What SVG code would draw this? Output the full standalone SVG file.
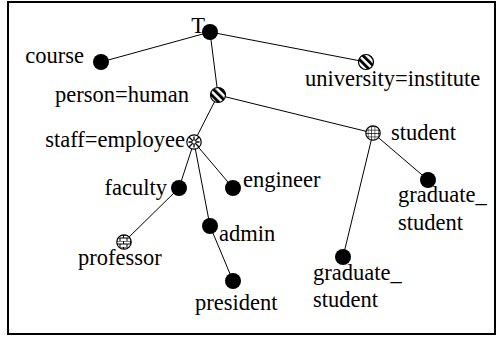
<svg xmlns="http://www.w3.org/2000/svg" width="496" height="341" viewBox="0 0 496 341">
<style>
.t text{font-family:"Liberation Serif","Times New Roman",serif;font-size:22.5px;fill:#000}
.t text.r{text-anchor:end}
.e{stroke:#000;stroke-width:1;fill:none}
.n{fill:#000}
.p{stroke:#000;stroke-width:1.2}
</style>
<defs>
<pattern id="stripe" patternUnits="userSpaceOnUse" width="5.4" height="5.4" patternTransform="rotate(-45)">
<rect width="5.4" height="5.4" fill="#fff"/>
<rect width="2.9" height="5.4" fill="#000"/>
</pattern>
<pattern id="grid" patternUnits="userSpaceOnUse" width="3.4" height="3.4" x="0.5" y="0.5">
<rect width="3.4" height="3.4" fill="#fff"/>
<path d="M0 0H3.4M0 0V3.4" stroke="#000" stroke-width="1.1"/>
</pattern>
<pattern id="brick" patternUnits="userSpaceOnUse" width="7" height="6" x="1" y="1">
<rect width="7" height="6" fill="#fff"/>
<path d="M0 0H7M0 3H7M3.5 0V3M0 3V6M7 3V6" stroke="#000" stroke-width="1"/>
</pattern>
</defs>
<rect x="8" y="2" width="487" height="332" fill="#fff" stroke="#000" stroke-width="2"/>
<g id="connectors" class="e">
<line x1="210" y1="32" x2="101" y2="62"/>
<line x1="210" y1="32" x2="366" y2="62"/>
<line x1="210" y1="32" x2="218" y2="95"/>
<line x1="218" y1="95" x2="194" y2="142"/>
<line x1="218" y1="95" x2="373" y2="133"/>
<line x1="194" y1="142" x2="179" y2="188"/>
<line x1="194" y1="142" x2="233" y2="188"/>
<line x1="194" y1="142" x2="210" y2="226"/>
<line x1="179" y1="188" x2="124" y2="242"/>
<line x1="210" y1="226" x2="233" y2="281"/>
<line x1="373" y1="133" x2="428" y2="180"/>
<line x1="373" y1="133" x2="343" y2="257"/>
</g>
<g class="t">
<g id="T"><circle class="n" cx="210" cy="32" r="8"/><text class="r" x="205" y="33">T</text></g>
<g id="course"><circle class="n" cx="101" cy="62" r="8"/><text class="r" x="84" y="63">course</text></g>
<g id="university"><circle class="p" cx="366" cy="62" r="7.5" fill="url(#stripe)"/><text x="305" y="86">university=institute</text></g>
<g id="person"><circle class="p" cx="218" cy="95" r="7.5" fill="url(#stripe)"/><text class="r" x="189" y="102">person=human</text></g>
<g id="staff"><circle class="p" cx="194" cy="142" r="7.2" fill="#fff"/>
<path d="M189 137L199 147M199 137L189 147M194 136.5V147.5M188.5 142H199.5" stroke="#000" stroke-width="1.3"/>
<path d="M194 139.5L196.5 142L194 144.5L191.5 142Z" fill="#fff" stroke="#000" stroke-width="0.8"/>
<text class="r" x="185" y="147">staff=employee</text></g>
<g id="student"><circle class="p" cx="373" cy="133" r="7.2" fill="url(#grid)"/><text x="391" y="140">student</text></g>
<g id="faculty"><circle class="n" cx="179" cy="188" r="8"/><text class="r" x="167" y="195">faculty</text></g>
<g id="engineer"><circle class="n" cx="233" cy="188" r="8"/><text x="243" y="187">engineer</text></g>
<g id="admin"><circle class="n" cx="210" cy="226" r="8"/><text x="219" y="241">admin</text></g>
<g id="professor"><circle class="p" cx="124" cy="242" r="7.2" fill="url(#brick)"/><text x="78" y="265">professor</text></g>
<g id="president"><circle class="n" cx="233" cy="281" r="8"/><text x="195" y="310">president</text></g>
<g id="graduate_student_1"><circle class="n" cx="428" cy="180" r="8"/><text x="398" y="202">graduate_</text><text x="398" y="230">student</text></g>
<g id="graduate_student_2"><circle class="n" cx="343" cy="257" r="8"/><text x="313" y="280">graduate_</text><text x="313" y="307">student</text></g>
</g>
</svg>
